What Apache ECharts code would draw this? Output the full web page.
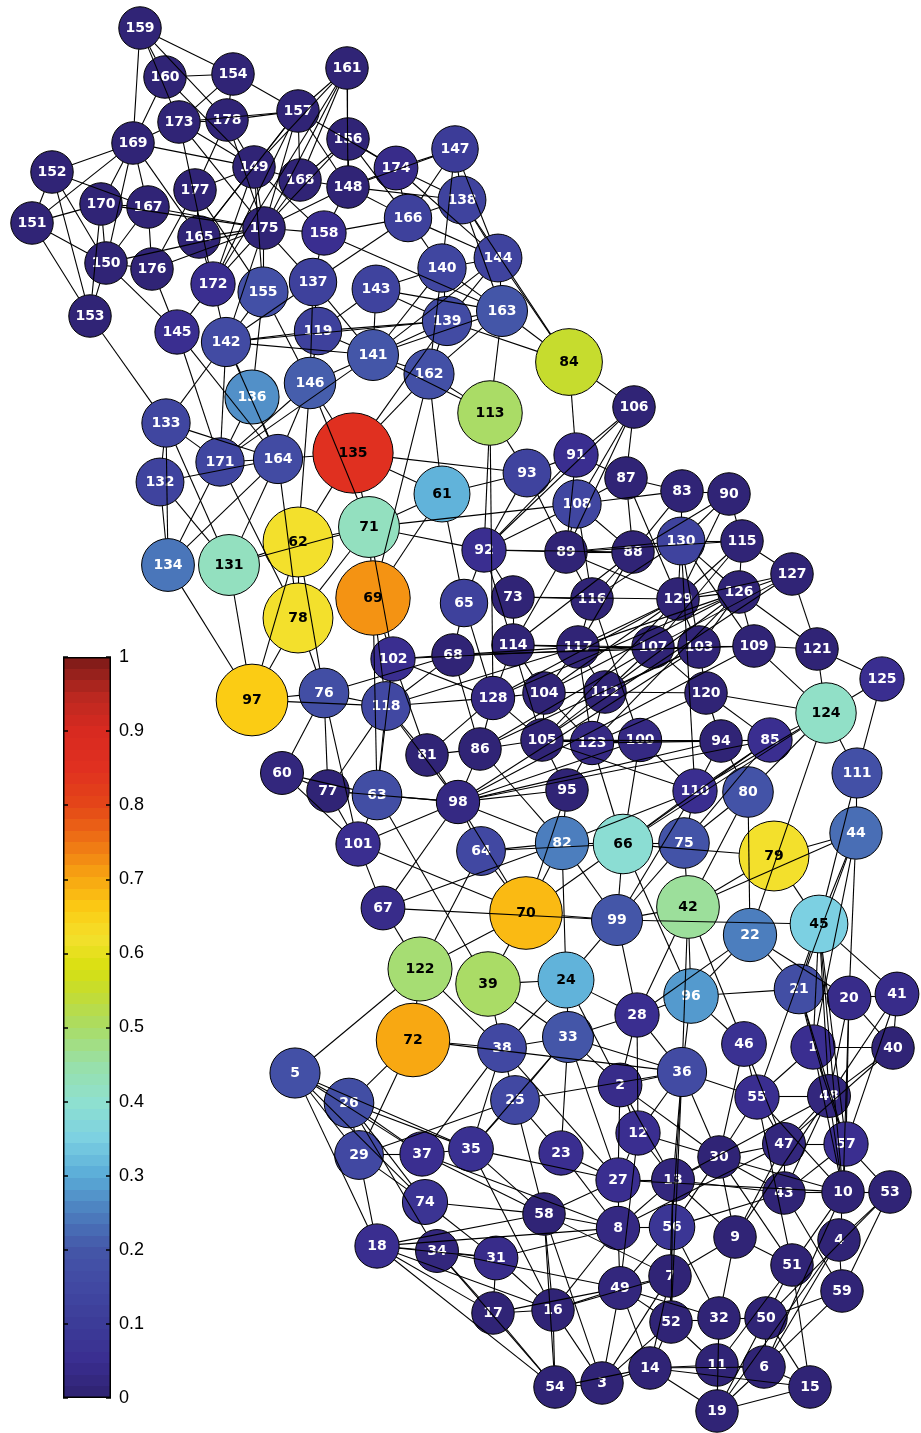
<!DOCTYPE html>
<html><head><meta charset="utf-8">
<script src="https://cdn.jsdelivr.net/npm/echarts@6/dist/echarts.min.js"></script>
<style>html,body{margin:0;padding:0;background:#fff}#c{width:921px;height:1433px}</style>
</head><body><div id="c"></div>
<script>
// node positions (chart units) and betweenness value, indexed by node id - 1
const nodeX = [813,620,602,839,295,764,670,618,735,843,717,638,673,650,810,553,493,377,717,849,
799,750,561,566,515,349,618,637,359,719,496,719,568,437,471,682,422,502,488,893,
897,688,784,856,819,744,784,829,620,766,792,671,890,555,757,672,846,544,842,282,
442,298,377,481,464,623,383,453,373,526,369,413,513,425,684,324,328,298,774,748,
427,562,682,569,770,480,626,633,566,729,576,484,527,721,567,691,252,458,617,640,
358,393,699,544,542,634,653,577,754,695,857,605,490,513,742,592,578,386,318,706,
817,420,592,826,882,739,792,493,678,681,229,160,166,168,353,252,313,462,447,442,
373,226,376,498,177,310,455,348,254,106,32,52,90,233,263,348,298,324,140,165,
347,429,502,278,199,408,148,300,133,101,220,213,179,396,264,152,195,227];
const nodeY = [1047,1085,1383,1240,1073,1367,1276,1228,1237,1192,1365,1133,1180,1368,1387,1310,1313,1246,1411,998,
989,935,1153,980,1100,1103,1180,1015,1155,1157,1258,1318,1037,1251,1149,1072,1154,1048,984,1048,
994,907,1193,833,924,1044,1144,1096,1288,1318,1265,1322,1192,1387,1097,1227,1144,1214,1291,773,
494,542,795,851,603,844,908,655,598,913,527,1040,597,1202,843,693,791,618,856,792,
755,843,491,362,740,749,478,552,552,494,455,550,473,741,790,996,700,802,920,740,
844,659,647,693,740,407,647,504,646,791,773,692,413,645,541,599,647,706,331,693,
649,969,743,713,679,592,574,698,599,541,565,482,423,565,453,397,282,200,321,268,
355,342,289,258,332,383,149,187,167,263,223,172,316,74,292,139,111,233,28,77,
68,374,311,459,237,218,207,180,143,204,462,284,122,168,228,269,190,120];
const nodeVal = [0.05,0.04,0.01,0.01,0.18,0.01,0.01,0.03,0.01,0.01,0.01,0.05,0.02,0.01,0.01,0.01,0.01,0.05,0.01,0.04,
0.17,0.25,0.05,0.31,0.15,0.17,0.05,0.05,0.15,0.01,0.04,0.01,0.20,0.02,0.06,0.16,0.05,0.15,0.50,0.01,
0.04,0.46,0.01,0.23,0.35,0.06,0.02,0.02,0.02,0.01,0.01,0.01,0.01,0.01,0.05,0.08,0.05,0.01,0.01,0.02,
0.31,0.62,0.17,0.15,0.12,0.39,0.04,0.01,0.72,0.68,0.42,0.70,0.01,0.07,0.19,0.17,0.01,0.62,0.62,0.19,
0.01,0.25,0.01,0.55,0.05,0.01,0.01,0.01,0.01,0.01,0.05,0.05,0.13,0.01,0.01,0.28,0.66,0.03,0.20,0.03,
0.05,0.05,0.01,0.01,0.01,0.01,0.01,0.14,0.01,0.05,0.18,0.01,0.50,0.01,0.01,0.01,0.01,0.15,0.12,0.01,
0.01,0.49,0.03,0.41,0.05,0.01,0.01,0.03,0.01,0.13,0.42,0.13,0.14,0.24,0.85,0.27,0.12,0.13,0.16,0.14,
0.20,0.16,0.13,0.13,0.05,0.21,0.10,0.01,0.01,0.01,0.01,0.01,0.01,0.01,0.18,0.01,0.01,0.05,0.01,0.01,
0.01,0.18,0.20,0.16,0.01,0.12,0.01,0.01,0.01,0.01,0.14,0.05,0.01,0.04,0.01,0.01,0.01,0.01];
const nodeIds = nodeX.map((_, i) => i + 1);

const edges = [
[159,169],[159,154],[159,160],[159,173],[159,178],[160,154],[160,169],[160,149],[154,173],[154,178],[154,157],[157,174],
[173,178],[173,169],[173,157],[173,149],[173,175],[173,172],[178,149],[178,175],[178,177],[178,157],
[169,152],[169,151],[169,170],[169,150],[169,167],[169,165],[169,149],[152,151],[152,150],[152,153],[152,167],
[151,150],[151,153],[151,170],[170,167],[170,150],[170,175],[170,153],[167,150],[167,176],[167,175],
[150,176],[150,145],[150,175],[150,153],[176,175],[176,145],[176,177],[177,149],[177,155],[177,165],
[165,175],[165,149],[165,172],[165,157],[149,175],[149,168],[149,157],[149,155],[149,172],[149,158],
[175,172],[175,155],[175,157],[175,161],[175,168],[175,148],[175,158],[175,142],[175,137],[175,156],
[172,142],[172,145],[172,161],[145,164],[145,171],[153,133],
[161,157],[161,168],[161,156],[161,148],[161,149],[156,174],[156,148],[156,168],[156,166],
[174,147],[174,148],[174,138],[174,166],[174,144],[147,138],[147,140],[147,144],[147,166],[147,148],
[148,166],[148,138],[148,158],[148,168],[157,168],[157,148],[157,172],[138,144],[138,163],[138,84],[138,166],
[166,158],[166,140],[166,137],[166,144],[158,137],[158,163],[144,140],[144,84],[144,139],[144,163],[144,141],
[140,143],[140,139],[140,163],[140,141],[140,162],[137,119],[137,141],[137,146],[137,142],
[143,141],[143,139],[143,163],[143,119],[163,84],[163,139],[163,113],[163,162],[163,141],
[139,141],[139,119],[139,162],[139,84],[139,135],[119,141],[119,142],[119,146],[155,136],[155,146],[155,142],
[142,133],[142,171],[142,164],[142,136],[142,141],[142,139],[136,164],[136,171],
[133,171],[133,164],[133,132],[133,134],[133,131],[132,164],[132,134],[132,131],
[171,164],[171,134],[171,78],[171,146],[171,141],[164,134],[164,131],[164,78],[164,146],[164,135],
[134,97],[131,97],[131,62],[131,71],[78,97],[62,97],[97,76],[97,118],
[146,135],[146,71],[146,141],[146,62],[141,162],[141,113],[162,135],[162,69],[162,113],[162,61],
[113,92],[113,128],[113,93],[84,91],[84,106],[135,93],[135,61],[135,71],[135,62],
[61,71],[61,93],[61,65],[61,69],[71,62],[71,92],[71,108],[71,69],[71,102],[71,78],
[69,118],[69,102],[69,63],[62,78],[62,76],[93,89],[93,92],[93,91],
[92,89],[92,108],[92,91],[92,65],[92,114],[92,73],[92,106],[92,88],[65,68],[65,128],
[73,116],[73,114],[73,129],[89,108],[89,116],[89,114],[89,91],[89,88],[89,130],[89,115],[89,129],
[102,68],[102,107],[102,118],[102,128],[102,63],[102,81],[68,118],[68,76],[68,117],[68,86],
[106,87],[106,89],[106,108],[87,83],[87,88],[87,129],[87,108],[87,91],[83,90],[83,130],[83,88],[83,108],
[90,115],[90,130],[90,129],[90,88],[130,115],[130,88],[130,129],[130,103],[130,126],[130,109],
[115,127],[115,126],[115,129],[115,107],[127,126],[127,129],[127,121],[127,107],
[126,109],[126,121],[126,103],[126,129],[126,117],[126,112],[129,107],[129,103],[129,117],[129,104],
[107,103],[103,109],[109,121],[103,120],[121,125],[121,124],[125,124],[109,124],[120,124],
[116,88],[116,117],[116,130],[114,117],[114,104],[114,128],[114,105],[114,88],
[117,107],[117,112],[117,104],[117,88],[117,123],[104,112],[104,105],[104,128],[104,123],
[112,120],[112,107],[112,123],[112,103],[112,105],[128,105],[128,118],[128,86],[128,81],
[105,123],[105,100],[105,94],[105,110],[105,95],[105,86],[123,100],[123,94],[123,120],[123,66],
[120,94],[120,85],[120,107],[100,94],[100,66],[100,110],[98,94],[98,85],[98,100],
[94,110],[94,85],[94,80],[85,124],[85,110],[85,66],[85,75],[124,111],[124,22],[124,110],[124,80],[124,66],
[111,44],[111,125],[111,45],[110,66],[110,75],[110,82],[110,99],[80,22],[80,42],[80,75],
[66,75],[66,79],[66,99],[66,82],[66,70],[66,96],[75,99],[75,42],
[44,42],[44,20],[44,45],[44,1],[44,21],[44,79],[79,45],[79,42],
[99,45],[99,42],[99,28],[99,24],[99,70],[22,21],[22,96],[22,28],[22,20],
[45,21],[45,41],[45,1],[45,55],[45,57],[45,48],[45,10],[42,96],[42,28],[42,46],[42,36],
[96,21],[96,36],[96,46],[21,20],[21,1],[21,48],[21,57],[20,41],[20,40],[20,48],[20,57],[20,10],
[41,40],[41,48],[41,57],[1,40],[1,48],[1,55],[1,10],[1,57],[40,48],[40,47],[46,55],[46,47],[46,30],
[60,76],[60,77],[60,63],[60,101],[76,77],[76,78],[76,118],[76,101],[118,63],[118,77],[118,81],[118,98],
[77,63],[77,101],[77,98],[63,101],[63,39],[63,98],[81,86],[81,98],[86,98],[86,82],
[98,95],[98,64],[98,101],[98,67],[98,82],[98,70],[95,82],[95,70],[95,123],[101,67],[101,70],
[64,82],[64,66],[64,70],[64,122],[67,99],[67,82],[67,122],[70,82],[70,39],[70,122],[82,99],[82,24],
[122,5],[122,72],[122,38],[39,33],[39,38],[39,24],[24,33],[24,38],[24,28],[24,2],
[72,38],[72,26],[72,29],[72,36],[28,33],[28,36],[28,2],[28,12],[28,96],
[33,38],[33,36],[33,2],[33,25],[33,35],[33,23],[33,27],[38,25],[38,35],[38,27],
[36,2],[36,55],[36,30],[36,13],[36,56],[36,12],[36,52],[36,25],[2,12],[2,30],[2,13],[2,27],
[55,48],[55,47],[55,30],[55,10],[55,51],[48,47],[48,57],[48,10],[48,43],[48,13],[48,9],
[12,30],[12,13],[12,49],[12,27],[47,57],[47,30],[47,43],[47,9],[47,8],[57,10],[57,53],[57,43],
[30,43],[30,13],[30,9],[30,51],[30,56],[30,10],[13,27],[13,43],[13,56],[13,7],[13,8],[13,9],[13,52],
[43,10],[43,59],[43,56],[10,53],[10,4],[10,51],[10,6],[53,4],[53,59],[53,50],
[56,7],[56,8],[56,49],[56,32],[9,51],[9,7],[9,32],[4,59],[4,6],[4,19],[51,15],[51,50],[51,11],
[7,49],[7,52],[7,14],[7,16],[7,58],[49,52],[49,32],[49,14],[49,16],[49,17],[59,50],[59,6],
[52,14],[52,11],[52,32],[52,3],[32,50],[32,11],[32,19],[50,6],[50,15],[50,19],
[14,11],[14,6],[14,15],[14,19],[14,3],[14,54],[11,6],[11,19],[6,19],[6,15],[19,15],
[27,58],[27,8],[27,23],[27,10],[8,56],[8,58],[8,49],[8,31],[8,16],[8,18],[3,54],[3,49],[3,7],
[5,26],[5,29],[5,37],[5,35],[5,18],[5,74],[26,29],[26,37],[26,35],[26,74],[26,34],
[29,37],[29,18],[29,74],[29,25],[37,35],[37,58],[37,8],[37,38],[35,25],[35,16],[35,58],[35,27],
[25,58],[25,23],[23,8],[74,58],[74,31],[18,58],[18,34],[18,31],[18,17],[18,16],[18,54],
[34,31],[34,17],[34,54],[34,49],[31,17],[31,16],[58,16],[58,54],[58,3],[17,16],[17,54],[16,54],[16,3],
[108,88],[108,83],[108,116],[91,106],[91,87],
[128,126],[104,126],[105,127],[86,103],[98,109],[86,107],[118,117],[68,109],[130,110],[116,100],
[123,126],[105,129],[98,103],[128,129],[114,107]
];

const colorbarTicks = [0,0.1,0.2,0.3,0.4,0.5,0.6,0.7,0.8,0.9,1];

// colour map (style)
const CMAP = [[0,'#2e2270'],[0.05,'#3a2e90'],[0.1,'#3c3c98'],[0.15,'#4148a2'],[0.2,'#4456a8'],
[0.25,'#4c7ebe'],[0.3,'#5aacd8'],[0.35,'#7cd0e2'],[0.4,'#8fe0cf'],[0.45,'#98e0a8'],[0.5,'#aadc66'],
[0.55,'#c6dc2e'],[0.58,'#d8e010'],[0.62,'#f3e02c'],[0.66,'#fbcc14'],[0.7,'#f8a812'],[0.75,'#ef7414'],
[0.8,'#e44618'],[0.85,'#e03020'],[0.9,'#d82a20'],[0.95,'#b82820'],[1,'#7a1a18']];
function hex(c){return [1,3,5].map(i=>parseInt(c.substr(i,2),16));}
function cmap(v){
  v=Math.max(0,Math.min(1,v));
  for(let i=1;i<CMAP.length;i++){
    if(v<=CMAP[i][0]){
      const [a,ca]=CMAP[i-1],[b,cb]=CMAP[i];const t=(v-a)/(b-a);
      const A=hex(ca),B=hex(cb);
      return 'rgb('+A.map((x,k)=>Math.round(x+(B[k]-x)*t)).join(',')+')';
    }
  }
  return CMAP[CMAP.length-1][1];
}
const sizeOf = v => 42 + 45*v;

const nodeData = nodeIds.map((id,i)=>({
  name:String(id), value:[nodeX[i],nodeY[i],nodeVal[i]],
  symbolSize:sizeOf(nodeVal[i]),
  itemStyle:{color:cmap(nodeVal[i])},
  label:{color: nodeVal[i]>=0.3?'#000':'#fff'}
}));

const seen = new Set();
const lineData = [];
edges.forEach(([a,b])=>{
  const key = Math.min(a,b)+'-'+Math.max(a,b);
  if(seen.has(key)) return; seen.add(key);
  const xa=nodeX[a-1],ya=nodeY[a-1],xb=nodeX[b-1],yb=nodeY[b-1];
  const dx=xb-xa,dy=yb-ya,d=Math.hypot(dx,dy)||1;
  const ra=sizeOf(nodeVal[a-1])/2, rb=sizeOf(nodeVal[b-1])/2;
  lineData.push({coords:[[xa+dx/d*ra,ya+dy/d*ra],[xb-dx/d*rb,yb-dy/d*rb]]});
});

// stepped gradient for colour bar
const NB=64, stops=[];
for(let k=0;k<NB;k++){
  const c=cmap(1-(k+0.5)/NB);
  stops.push({offset:k/NB,color:c},{offset:(k+1)/NB,color:c});
}

const chart = echarts.init(document.getElementById('c'), null, {renderer:'canvas'});
chart.setOption({
  animation:false,
  backgroundColor:'#fff',
  grid:[{left:0,top:0,right:0,bottom:0},{left:63,top:657,width:48,height:741}],
  xAxis:[{type:'value',min:0,max:921,show:false},
         {type:'category',gridIndex:1,data:[''],show:false}],
  yAxis:[{type:'value',min:0,max:1433,inverse:true,show:false},
         {type:'value',gridIndex:1,min:0,max:1,interval:0.1,position:'right',z:10,
          axisLine:{show:false},splitLine:{show:false},
          axisTick:{show:true,inside:true,length:5,lineStyle:{color:'#000',width:1.5}},
          axisLabel:{show:true,margin:8,fontSize:18,color:'#000',fontFamily:'Liberation Sans',
            formatter:v=>{const t=colorbarTicks.find(x=>Math.abs(x-v)<1e-6);return t===undefined?'':String(t);}}},
         {type:'value',gridIndex:1,min:0,max:1,interval:0.1,position:'left',z:10,
          axisLine:{show:false},splitLine:{show:false},
          axisTick:{show:true,inside:true,length:5,lineStyle:{color:'#000',width:1.5}},
          axisLabel:{show:false}}],
  series:[
    {type:'scatter',coordinateSystem:'cartesian2d',xAxisIndex:0,yAxisIndex:0,z:2,
     data:nodeData,
     itemStyle:{borderColor:'#000',borderWidth:1,opacity:1},
     label:{show:true,position:'inside',formatter:'{b}',fontFamily:'DejaVu Sans',fontWeight:'bold',fontSize:14},
     emphasis:{disabled:true}},
    {type:'lines',coordinateSystem:'cartesian2d',xAxisIndex:0,yAxisIndex:0,z:5,silent:true,
     data:lineData,symbol:'none',
     lineStyle:{color:'#000',width:1.1,opacity:1,curveness:0}},
    {type:'bar',xAxisIndex:1,yAxisIndex:1,data:[1],barWidth:'100%',silent:true,z:2,
     itemStyle:{color:{type:'linear',x:0,y:0,x2:0,y2:1,colorStops:stops},borderColor:'#000',borderWidth:1.5}}
  ]
});
</script></body></html>
